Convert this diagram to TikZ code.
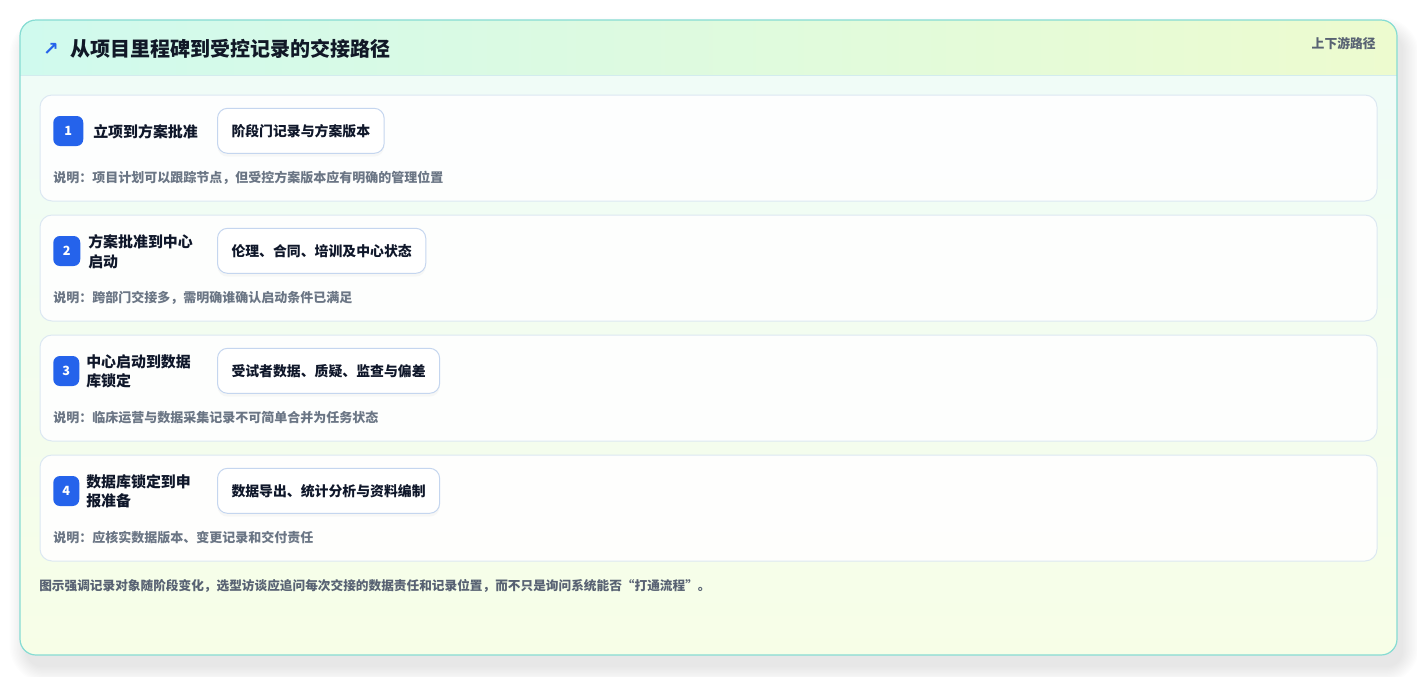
\documentclass[tikz,border=0pt]{standalone}
\usepackage{fontspec}
\setmainfont{Noto Sans CJK SC}
\newfontfamily\symfont{DejaVu Sans}
\usepackage{xcolor}
\usetikzlibrary{positioning,shadows}

\definecolor{outerline}{HTML}{86DCD3}
\definecolor{cardtop}{HTML}{EFFCF9}
\definecolor{cardbot}{HTML}{F7FEE7}
\definecolor{hdleft}{HTML}{D0FAEE}
\definecolor{hdright}{HTML}{EDFBCF}
\definecolor{hdline}{HTML}{D3ECEE}
\definecolor{stepline}{HTML}{DCE8F2}
\definecolor{chipline}{HTML}{C5D6EF}
\definecolor{badgeblue}{HTML}{2563EB}
\definecolor{titletext}{HTML}{111827}
\definecolor{labeltext}{HTML}{0F172A}
\definecolor{notetext}{HTML}{6B7685}
\definecolor{foottext}{HTML}{586273}

\tikzset{
  stepcard/.style={draw=stepline, line width=0.75pt, fill=white, fill opacity=0.9, rounded corners=9pt},
  badge/.style={fill=badgeblue, rounded corners=5pt, text=white, inner sep=0pt,
    minimum height=22.5pt, font=\bfseries\fontsize{9.5}{9.5}\selectfont},
  steplabel/.style={inner sep=0pt, align=left, text=labeltext,
    font=\bfseries\fontsize{11.2}{14.6}\selectfont},
  chip/.style={draw=chipline, line width=0.75pt, fill=white, rounded corners=7.5pt,
    inner xsep=10.5pt, inner ysep=0pt, minimum height=33.75pt, text=labeltext,
    font=\bfseries\fontsize{10.4}{12}\selectfont,
    drop shadow={opacity=0.05, shadow xshift=0pt, shadow yshift=-2.5pt}},
  note/.style={inner sep=0pt, text=notetext, font=\bfseries\fontsize{9.75}{12}\selectfont},
}

\begin{document}
\begin{tikzpicture}[x=0.75pt, y=-0.75pt]
  \useasboundingbox (0,0) rectangle (1417,676);
  \fill[white] (0,0) rectangle (1417,676);

  % soft shadow round the card
  \foreach \k in {0,...,11}
    \fill[black, opacity=0.007, rounded corners=12pt+\k*1.5pt]
      (20-\k*1.5+6, 20-\k*1.5+14) rectangle (1397+\k*1.5+6, 655+\k*1.5+12);

  % card and header band
  \shade[top color=cardtop, bottom color=cardbot, rounded corners=12pt] (20,20) rectangle (1397,655);
  \begin{scope}
    \clip (0,0) rectangle (1417,75);
    \shade[left color=hdleft, right color=hdright, rounded corners=12pt] (20,20) rectangle (1397,110);
  \end{scope}
  \draw[hdline, line width=0.75pt] (20,75) -- (1397,75);
  \draw[outerline, line width=0.9pt, rounded corners=12pt] (20,20) rectangle (1397,655);

  \node[inner sep=0pt, text=badgeblue, font=\symfont\bfseries\fontsize{14}{14}\selectfont] (arrow) at (51,49) {↗};
  \node[anchor=west, inner sep=0pt, text=titletext, font=\bfseries\fontsize{15}{18}\selectfont] (title) at (70,49)
    {从项目里程碑到受控记录的交接路径};
  \node[anchor=east, inner sep=0pt, text=foottext, font=\bfseries\fontsize{9.6}{11}\selectfont] (tag) at (1376,44) {上下游路径};

  % the four hand-over steps
  \foreach \i/\top/\bw/\lx/\lab/\chiptext/\notetext in {
    1/95/30/93/{立项到方案批准}/{阶段门记录与方案版本}/{项目计划可以跟踪节点，但受控方案版本应有明确的管理位置},
    2/215/27/88/{方案批准到中心\\启动}/{伦理、合同、培训及中心状态}/{跨部门交接多，需明确谁确认启动条件已满足},
    3/335/26/86/{中心启动到数据\\库锁定}/{受试者数据、质疑、监查与偏差}/{临床运营与数据采集记录不可简单合并为任务状态},
    4/455/26/86/{数据库锁定到申\\报准备}/{数据导出、统计分析与资料编制}/{应核实数据版本、变更记录和交付责任}} {
    \draw[stepcard] (40,\top) rectangle (1377,\top+106);
    \node[badge, anchor=west, minimum width=\bw*0.75pt] (b\i) at (53,\top+36) {\i};
    \node[steplabel, anchor=west] (l\i) at (\lx,\top+36.5) {\lab};
    \node[chip, anchor=west] (c\i) at (217,\top+35.8) {\chiptext};
    \node[note, anchor=west] (n\i) at (53,\top+83) {说明：\notetext};
  }

  \node[anchor=west, inner sep=0pt, text=foottext, font=\bfseries\fontsize{9.5}{12}\selectfont] (foot) at (39,586)
    {图示强调记录对象随阶段变化，选型访谈应追问每次交接的数据责任和记录位置，而不只是询问系统能否“打通流程”。};
\end{tikzpicture}
\end{document}
